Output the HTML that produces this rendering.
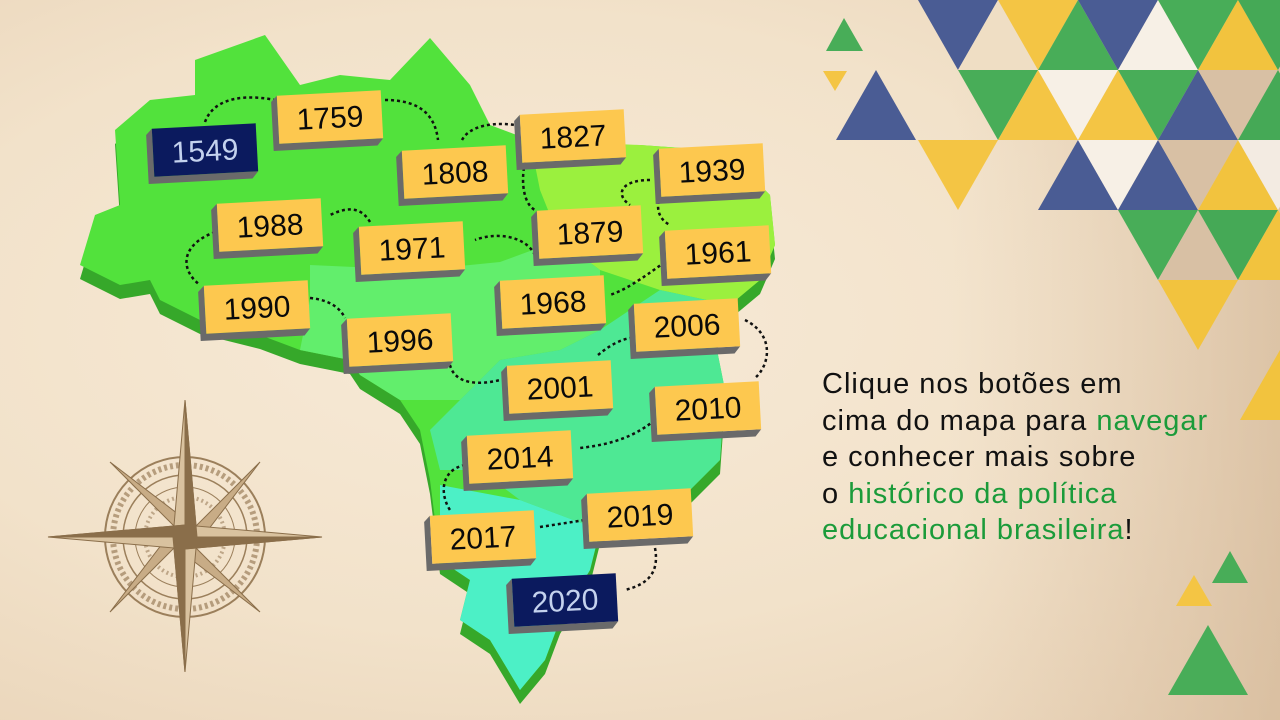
<!DOCTYPE html>
<html><head><meta charset="utf-8"><style>
html,body{margin:0;padding:0;width:1280px;height:720px;overflow:hidden}
body{background:radial-gradient(ellipse at 40% 45%,#f7ead7 0%,#f2e2ca 55%,#e8d2b6 100%);font-family:"Liberation Sans",sans-serif;position:relative}
svg{position:absolute;left:0;top:0}
.info{position:absolute;left:822px;top:366px;font-size:29px;line-height:36.5px;color:#111;letter-spacing:1px}
.info .g{color:#1b9b3a}
</style></head><body>
<svg width="1280" height="720" viewBox="0 0 1280 720">
 <defs><linearGradient id="sh" x1="0" x2="1" y1="0" y2="0"><stop offset="0" stop-color="#d9bfa3" stop-opacity="0"/><stop offset="1" stop-color="#d0b393" stop-opacity="0.6"/></linearGradient></defs>
 <rect x="950" y="0" width="330" height="720" fill="url(#sh)"/>
 <g>
  <polygon points="918,0 998,0 958,70" fill="#4a5c94"/>
  <polygon points="958,70 1038,70 998,0" fill="#efdec4"/>
  <polygon points="998,0 1078,0 1038,70" fill="#f4c544"/>
  <polygon points="1038,70 1118,70 1078,0" fill="#48ad58"/>
  <polygon points="1078,0 1158,0 1118,70" fill="#4a5c94"/>
  <polygon points="1118,70 1198,70 1158,0" fill="#f7f0e6"/>
  <polygon points="1158,0 1238,0 1198,70" fill="#48ad58"/>
  <polygon points="1198,70 1278,70 1238,0" fill="#f2c33e"/>
  <polygon points="1238,0 1318,0 1278,70" fill="#45a956"/>
  <polygon points="958,70 1038,70 998,140" fill="#48ad58"/>
  <polygon points="998,140 1078,140 1038,70" fill="#f4c544"/>
  <polygon points="1038,70 1118,70 1078,140" fill="#f7f0e6"/>
  <polygon points="1078,140 1158,140 1118,70" fill="#f4c544"/>
  <polygon points="1118,70 1198,70 1158,140" fill="#48ad58"/>
  <polygon points="1158,140 1238,140 1198,70" fill="#4a5c94"/>
  <polygon points="1198,70 1278,70 1238,140" fill="#d8c0a4"/>
  <polygon points="1238,140 1318,140 1278,70" fill="#45a956"/>
  <polygon points="836,140 916,140 876,70" fill="#4a5c94"/>
  <polygon points="918,140 998,140 958,210" fill="#f4c544"/>
  <polygon points="1038,210 1118,210 1078,140" fill="#4a5c94"/>
  <polygon points="1078,140 1158,140 1118,210" fill="#f7f0e6"/>
  <polygon points="1118,210 1198,210 1158,140" fill="#4a5c94"/>
  <polygon points="1158,140 1238,140 1198,210" fill="#d8c0a4"/>
  <polygon points="1198,210 1278,210 1238,140" fill="#f2c33e"/>
  <polygon points="1238,140 1318,140 1278,210" fill="#f3ebe2"/>
  <polygon points="1118,210 1198,210 1158,280" fill="#48ad58"/>
  <polygon points="1158,280 1238,280 1198,210" fill="#d8c0a4"/>
  <polygon points="1198,210 1278,210 1238,280" fill="#45a956"/>
  <polygon points="1238,280 1318,280 1278,210" fill="#f2c33e"/>
  <polygon points="1158,280 1238,280 1198,350" fill="#f2c33e"/>
  <polygon points="1240,420 1320,420 1280,350" fill="#f2c33e"/>
  <polygon points="826,51 863,51 844,18" fill="#48ad58"/>
  <polygon points="823,71 847,71 835,91" fill="#f4c544"/>
  <polygon points="1212,583 1248,583 1230,551" fill="#48ad58"/>
  <polygon points="1176,606 1212,606 1194,575" fill="#f4c544"/>
  <polygon points="1168,695 1248,695 1208,625" fill="#48ad58"/>
 </g>
 <g transform="translate(185,537)" stroke="#9b7f5b" fill="none">
  <circle r="80" stroke-width="2"/><circle r="72" stroke-width="6" stroke-dasharray="3 3" opacity="0.7"/>
  <circle r="62" stroke-width="1.5"/><circle r="50" stroke-width="1"/><circle r="40" stroke-width="4" stroke-dasharray="2 3" opacity="0.6"/>
  <g fill="#c8ac86" stroke="#8a6e4a" stroke-width="1">
   <polygon points="0,0 -10,-10 -75,-75 10,-10" transform="rotate(0)"/>
   <polygon points="0,0 -10,-10 -75,-75 10,-10" transform="rotate(90)"/>
   <polygon points="0,0 -10,-10 -75,-75 10,-10" transform="rotate(180)"/>
   <polygon points="0,0 -10,-10 -75,-75 10,-10" transform="rotate(270)"/>
   <polygon points="0,0 -12,0 0,-137 12,0" fill="#d9c29f"/>
   <polygon points="0,0 -12,0 0,135 12,0" fill="#d9c29f"/>
   <polygon points="0,0 0,-12 -137,0 0,12" fill="#d9c29f"/>
   <polygon points="0,0 0,-12 137,0 0,12" fill="#d9c29f"/>
   <polygon points="0,0 0,-137 12,0" fill="#8a6e4a"/>
   <polygon points="0,0 0,135 -12,0" fill="#8a6e4a"/>
   <polygon points="0,0 -137,0 0,-12" fill="#8a6e4a"/>
   <polygon points="0,0 137,0 0,12" fill="#8a6e4a"/>
  </g>
 </g>
 <g>
  <polygon transform="translate(0,14)" fill="#36a82a" points="80,265 95,215 120,205 115,130 150,100 195,95 195,60 265,35 300,85 340,75 390,80 430,38 470,85 490,125 530,140 570,150 640,145 710,150 745,170 770,195 775,245 760,280 730,305 715,340 725,390 720,460 690,490 640,500 600,530 590,570 560,620 545,660 520,690 490,640 460,620 470,580 440,560 430,480 420,430 400,400 360,375 350,360 300,350 260,335 200,320 160,300 150,280 120,285"/>
  <polygon fill="#52e23c" points="80,265 95,215 120,205 115,130 150,100 195,95 195,60 265,35 300,85 340,75 390,80 430,38 470,85 490,125 530,140 570,150 640,145 710,150 745,170 770,195 775,245 760,280 730,305 715,340 725,390 720,460 690,490 640,500 600,530 590,570 560,620 545,660 520,690 490,640 460,620 470,580 440,560 430,480 420,430 400,400 360,375 350,360 300,350 260,335 200,320 160,300 150,280 120,285"/>
  <polygon fill="#9bf03e" points="530,140 640,145 710,150 745,170 770,195 775,245 760,280 730,305 660,290 600,270 560,240 540,190"/>
  <polygon fill="#62ee6c" points="310,265 420,270 500,262 560,240 600,270 600,330 560,350 500,360 460,400 400,400 360,375 350,360 300,350 310,300"/>
  <polygon fill="#4ee894" points="560,350 600,330 660,290 730,305 715,340 725,390 720,460 690,490 640,500 600,530 520,500 480,470 440,470 430,430 460,400 500,360"/>
  <polygon fill="#4cf0c6" points="440,485 520,500 600,530 590,570 560,620 545,660 520,690 490,640 460,620 470,580 440,560"/>
 </g>
 <g fill="none" stroke="#111" stroke-width="2.5" stroke-dasharray="3 3">
  <path d="M205,122 C215,95 250,95 275,100"/>
  <path d="M385,100 C420,100 435,115 438,140"/>
  <path d="M462,140 C470,125 495,122 515,125"/>
  <path d="M525,162 C520,185 525,205 535,210"/>
  <path d="M650,180 C620,180 615,195 630,205"/>
  <path d="M660,195 C655,210 660,220 670,225"/>
  <path d="M535,255 C525,235 495,232 475,240"/>
  <path d="M370,222 C360,205 345,208 330,215"/>
  <path d="M215,232 C180,245 180,270 200,285"/>
  <path d="M310,298 C330,300 340,308 345,318"/>
  <path d="M665,262 C640,280 625,290 610,295"/>
  <path d="M450,365 C455,385 480,385 500,380"/>
  <path d="M598,355 C610,345 620,340 630,338"/>
  <path d="M745,320 C775,335 770,365 755,378"/>
  <path d="M655,420 C630,440 605,445 580,448"/>
  <path d="M465,465 C440,470 440,495 450,510"/>
  <path d="M540,527 L585,520"/>
  <path d="M655,548 C660,575 645,585 625,590"/>
 </g>
 <g id="boxes"></g>
</svg>
<div class="info">Clique nos botões em<br>cima do mapa para <span class="g">navegar</span><br>e conhecer mais sobre<br>o <span class="g">histórico da política</span><br><span class="g">educacional brasileira</span>!</div>
<script>
const years=["1549","1759","1808","1827","1939","1988","1971","1879","1961","1990","1968","2006","1996","2001","2010","2014","2017","2019","2020"];
const cx=[205,330,455,573,712,270,412,590,718,257,553,687,400,560,708,520,483,640,565];
const cy=[150,117,172,136,170,225,248,232,252,307,302,325,340,387,408,457,537,515,600];
const g=document.getElementById('boxes');
const NS="http://www.w3.org/2000/svg";
years.forEach((y,i)=>{
 const dark=(y==="1549"||y==="2020");
 const grp=document.createElementNS(NS,'g');
 
 
 grp.setAttribute('transform','translate('+cx[i]+','+cy[i]+') rotate(-3)');
 grp.style.cursor='pointer';
 grp.innerHTML='<polygon points="-52,-24 -58,-18 -58,31 46,31 52,24 -52,24" fill="#6a6a6a"/>'+
  '<rect x="-52" y="-24" width="104" height="48" fill="'+(dark?'#0b1a5e':'#fdc84f')+'"/>'+
  '<text x="0" y="11" text-anchor="middle" font-family="Liberation Sans, sans-serif" font-size="30" fill="'+(dark?'#c4d2ee':'#0a0a0a')+'">'+y+'</text>';
 g.appendChild(grp);
});
</script>
</body></html>
